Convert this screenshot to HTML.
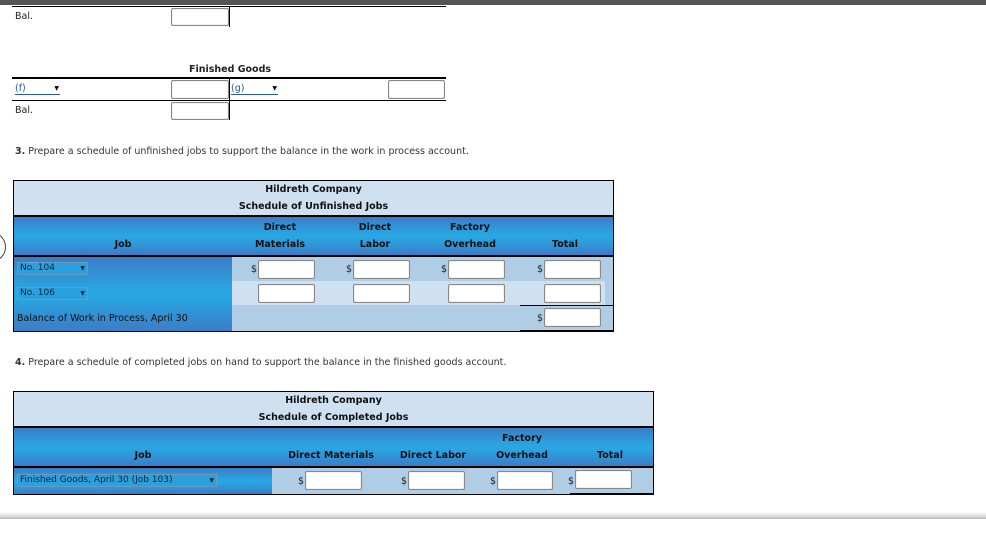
<!DOCTYPE html>
<html><head><style>
*{margin:0;padding:0;box-sizing:border-box}
body{width:986px;height:546px;background:#fff;position:relative;overflow:hidden;font-family:"DejaVu Sans","Liberation Sans",sans-serif;font-size:9.5px;line-height:15px;color:#222}
.a{position:absolute}
.inp{position:absolute;background:#fff;border:1px solid #888;border-radius:2px;box-shadow:inset 0 0 1px #aaa}
.blk{position:absolute;background:#000}
.bg{background:linear-gradient(#3b7cc6,#29a6e2 45%,#29a6e2 55%,#3b7cc6)}
.b{font-weight:bold}
.sel{position:absolute;border:1px solid #6a9ac0;background:#2aa0dc;color:#0a2a40;font-size:9px;padding-left:2px;line-height:11px;height:13px}
.sel:after{content:"▼";position:absolute;right:2px;top:0;font-size:6px}
.c{text-align:center}
</style></head><body>
<div class="a" style="left:0;top:0;width:986px;height:5px;background:#555"></div>
<div class="blk" style="left:12px;top:6px;width:434px;height:1px"></div>
<div class="a" style="left:15px;top:9px">Bal.</div>
<div class="inp" style="left:171px;top:8px;width:58px;height:18px"></div>
<div class="blk" style="left:229px;top:7px;width:1px;height:20px"></div>

<div class="a b" style="left:189px;top:62px">Finished Goods</div>
<div class="blk" style="left:12px;top:77px;width:434px;height:2px"></div>
<div class="a" style="left:15px;top:81px;width:45px;border-bottom:1px solid #2a5a9a;color:#2a5a9a;height:14px;line-height:15px">(f)<span style="position:absolute;right:1px;font-size:6px;color:#000">▼</span></div>
<div class="inp" style="left:171px;top:80px;width:58px;height:19px"></div>
<div class="blk" style="left:229px;top:79px;width:1px;height:41px"></div>
<div class="a" style="left:231px;top:81px;width:47px;border-bottom:1px solid #2a5a9a;color:#2a5a9a;height:14px;line-height:15px">(g)<span style="position:absolute;right:1px;font-size:6px;color:#000">▼</span></div>
<div class="inp" style="left:388px;top:80px;width:57px;height:19px"></div>
<div class="blk" style="left:12px;top:100px;width:434px;height:1px"></div>
<div class="a" style="left:15px;top:103px">Bal.</div>
<div class="inp" style="left:171px;top:102px;width:58px;height:18px"></div>

<div class="a" style="left:15px;top:144px;color:#333"><b>3.</b> Prepare a schedule of unfinished jobs to support the balance in the work in process account.</div>

<div class="a" style="left:-24px;top:232px;width:30px;height:30px;border:1.5px solid #444;border-radius:50%"></div>

<!-- table 1 -->
<div class="a" style="left:13px;top:180px;width:601px;height:152px;border:1px solid #000;background:#afcde4"></div>
<div class="a" style="left:14px;top:181px;width:599px;height:34px;background:#cfe0f0"></div>
<div class="a b c" style="left:14px;top:181px;width:599px;line-height:17px;color:#111">Hildreth Company<br>Schedule of Unfinished Jobs</div>
<div class="blk" style="left:14px;top:215px;width:599px;height:2px"></div>
<div class="a bg" style="left:14px;top:217px;width:599px;height:38px"></div>
<div class="a b c" style="left:14px;top:237px;width:218px;color:#111">Job</div>
<div class="a b c" style="left:240px;top:219px;width:80px;line-height:17px;color:#111">Direct<br>Materials</div>
<div class="a b c" style="left:335px;top:219px;width:80px;line-height:17px;color:#111">Direct<br>Labor</div>
<div class="a b c" style="left:430px;top:219px;width:80px;line-height:17px;color:#111">Factory<br>Overhead</div>
<div class="a b c" style="left:525px;top:237px;width:80px;color:#111">Total</div>
<div class="blk" style="left:14px;top:255px;width:599px;height:2px"></div>
<div class="a bg" style="left:14px;top:257px;width:218px;height:74px"></div>
<div class="a" style="left:232px;top:281px;width:373px;height:24px;background:#cfe1f1"></div>
<div class="sel" style="left:17px;top:262px;width:71px">No. 104</div>
<div class="sel" style="left:17px;top:287px;width:71px">No. 106</div>
<div class="a" style="left:17px;top:311px;color:#111">Balance of Work in Process, April 30</div>
<div class="a" style="left:251px;top:262px">$</div><div class="inp" style="left:258px;top:260px;width:57px;height:19px"></div>
<div class="a" style="left:346px;top:262px">$</div><div class="inp" style="left:353px;top:260px;width:57px;height:19px"></div>
<div class="a" style="left:441px;top:262px">$</div><div class="inp" style="left:448px;top:260px;width:57px;height:19px"></div>
<div class="a" style="left:537px;top:262px">$</div><div class="inp" style="left:544px;top:260px;width:57px;height:19px"></div>
<div class="inp" style="left:258px;top:284px;width:57px;height:19px"></div>
<div class="inp" style="left:353px;top:284px;width:57px;height:19px"></div>
<div class="inp" style="left:448px;top:284px;width:57px;height:19px"></div>
<div class="inp" style="left:544px;top:284px;width:57px;height:19px"></div>
<div class="blk" style="left:520px;top:305px;width:93px;height:1px"></div>
<div class="a" style="left:537px;top:311px">$</div><div class="inp" style="left:544px;top:308px;width:57px;height:19px"></div>
<div class="blk" style="left:520px;top:330px;width:94px;height:2px"></div>

<div class="a" style="left:15px;top:355px;color:#333"><b>4.</b> Prepare a schedule of completed jobs on hand to support the balance in the finished goods account.</div>

<!-- table 2 -->
<div class="a" style="left:13px;top:391px;width:641px;height:104px;border:1px solid #000;background:#afcde4"></div>
<div class="a" style="left:14px;top:392px;width:639px;height:34px;background:#cfe0f0"></div>
<div class="a b c" style="left:14px;top:392px;width:639px;line-height:17px;color:#111">Hildreth Company<br>Schedule of Completed Jobs</div>
<div class="blk" style="left:14px;top:426px;width:639px;height:2px"></div>
<div class="a bg" style="left:14px;top:428px;width:639px;height:38px"></div>
<div class="a b c" style="left:14px;top:448px;width:258px;color:#111">Job</div>
<div class="a b c" style="left:281px;top:448px;width:100px;color:#111">Direct Materials</div>
<div class="a b c" style="left:388px;top:448px;width:90px;color:#111">Direct Labor</div>
<div class="a b c" style="left:482px;top:430px;width:80px;line-height:17px;color:#111">Factory<br>Overhead</div>
<div class="a b c" style="left:580px;top:448px;width:60px;color:#111">Total</div>
<div class="blk" style="left:14px;top:466px;width:639px;height:2px"></div>
<div class="a bg" style="left:14px;top:468px;width:258px;height:26px"></div>
<div class="sel" style="left:17px;top:474px;width:200px">Finished Goods, April 30 (Job 103)</div>
<div class="a" style="left:298px;top:474px">$</div><div class="inp" style="left:305px;top:471px;width:57px;height:19px"></div>
<div class="a" style="left:401px;top:474px">$</div><div class="inp" style="left:408px;top:471px;width:57px;height:19px"></div>
<div class="a" style="left:490px;top:474px">$</div><div class="inp" style="left:497px;top:471px;width:56px;height:19px"></div>
<div class="a" style="left:568px;top:474px">$</div><div class="inp" style="left:575px;top:470px;width:57px;height:19px"></div>
<div class="blk" style="left:570px;top:493px;width:84px;height:2px"></div>

<div class="a" style="left:0;top:512px;width:986px;height:7px;background:linear-gradient(#fff,#ddd 60%,#bbb)"></div>
</body></html>
